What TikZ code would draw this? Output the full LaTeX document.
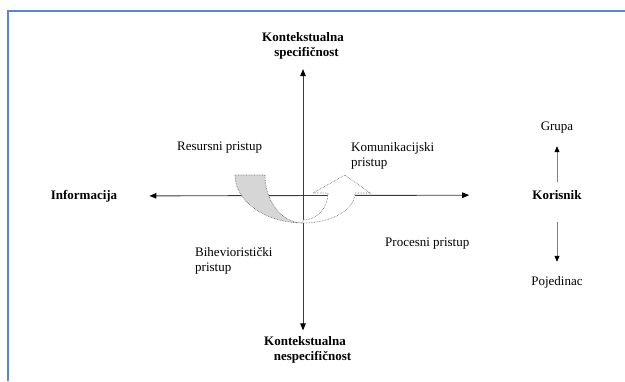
\documentclass[tikz,border=0pt]{standalone}
\usepackage{fontspec}
\setmainfont{Liberation Serif}
\usetikzlibrary{arrows.meta,positioning,calc}
\definecolor{cFrame}{HTML}{5B87C9}
\definecolor{cAxis}{HTML}{3A3A3A}
\definecolor{cBand}{HTML}{D6D6D6}
\definecolor{cDot}{HTML}{5E5E5E}
\tikzset{
  lbl/.style={font=\fontsize{13}{15}\selectfont,align=left,inner sep=0pt},
  pole/.style={lbl,font=\fontsize{13}{15}\selectfont\bfseries,align=center},
  axis/.style={{Triangle[length=7pt,width=5.5pt,color=black]}-{Triangle[length=7pt,width=5.5pt,color=black]},
               line width=0.9pt,cAxis},
  arr/.style={-{Triangle[length=6pt,width=5pt,color=black]},line width=0.7pt,black!50},
  band/.style={densely dotted,line width=0.6pt,draw=cDot},
}

\begin{document}
\begin{tikzpicture}[x=1pt,y=-1pt]
\useasboundingbox (0,0) rectangle (625,381);

% ============ FRAME ============
\draw[cFrame,line width=2pt] (8,381) -- (8,11) -- (625,11);

% ============ POLES ============
\coordinate (o) at (303,196);
\node[pole] (ktop) at (303,45.5) {Kontekstualna\\ \hspace*{7pt}specifičnost};
\node[pole] (kbot) at (305,350) {Kontekstualna\\ \hspace*{15pt}nespecifičnost};
\node[pole] (inf) at (84,196) {Informacija};
\node[pole] (kor) at (557,195) {Korisnik};
\node[lbl, above=57pt of kor] (grupa) {Grupa};
\node[lbl, below=77pt of kor] (poj) {Pojedinac};

% ============ APPROACHES ============
\node[lbl, anchor=west] (res) at (177,148) {Resursni pristup};
\node[lbl, anchor=west] (kom) at (351,155.5) {Komunikacijski\\ pristup};
\node[lbl, anchor=west] (bih) at (195,261) {Bihevioristički\\ pristup};
\node[lbl, anchor=west] (proc) at (385,244) {Procesni pristup};

% ---------- axes ----------
\draw[axis,shorten <=32pt,shorten >=63pt] (inf) -- (kor);
\draw[axis,shorten <=10pt,shorten >=6pt] (o |- ktop.south) -- (o |- kbot.north);

% ---------- user scale ----------
\draw[arr,shorten <=8pt,shorten >=13pt] (kor) -- (grupa);
\draw[arr,shorten <=22pt,shorten >=15pt] (kor) -- (poj);

% ---------- curved arrows ----------
\draw[band,fill=cBand] (235,175) -- (265,175)
  .. controls (265,201.5) and (282,223) .. (303,223)
  .. controls (265.5,223) and (235,201.5) .. (235,175) -- cycle;
\draw[band,fill=white] (303,223)
  .. controls (331.7,223) and (355,209.6) .. (355,193)
  -- (370,193) -- (345,175) -- (313,193) -- (328,193)
  .. controls (328,208) and (316.8,220) .. (303,220) -- cycle;

\end{tikzpicture}
\end{document}
